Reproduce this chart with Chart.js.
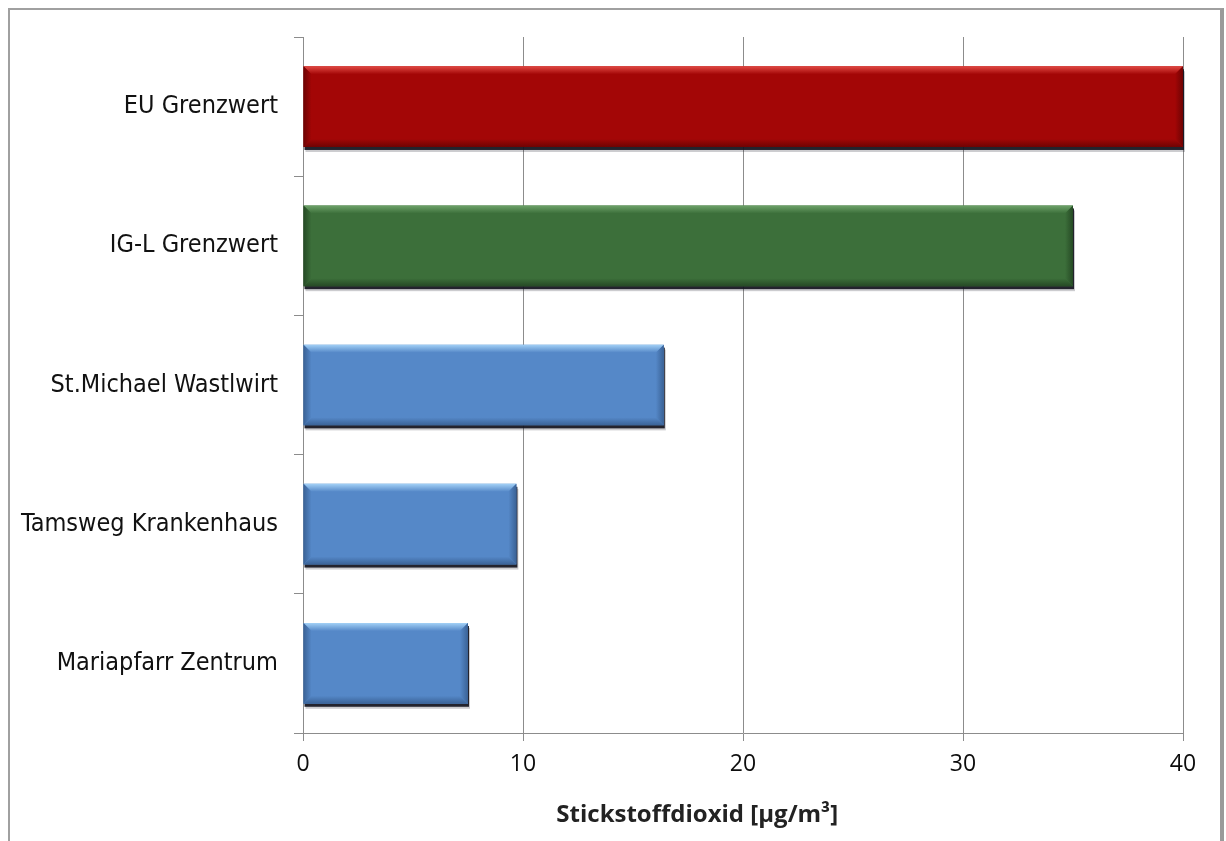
<!DOCTYPE html>
<html>
<head>
<meta charset="utf-8">
<script src="https://cdn.jsdelivr.net/npm/chart.js@4/dist/chart.umd.min.js"></script>
<style>
  html, body { margin: 0; padding: 0; background: #fff; overflow: hidden; }
  #frame { position: absolute; left: 8px; top: 8px; width: 1210px; height: 900px;
           border: 2px solid #a0a0a0; border-right: 4px solid #9a9a9a; pointer-events: none; }
  #wrap { position: absolute; left: 0; top: 0; width: 1226px; height: 841px; }
</style>
</head>
<body>
<div id="wrap"><canvas id="c" width="1226" height="841"></canvas></div>
<div id="frame"></div>
<script>
// Annual mean NO2 at the Lungau stations compared with the limit values
const categories = ['EU Grenzwert', 'IG-L Grenzwert', 'St.Michael Wastlwirt', 'Tamsweg Krankenhaus', 'Mariapfarr Zentrum'];
const no2Values = [40, 35, 16.4, 9.7, 7.5];
const xTicks = [0, 10, 20, 30, 40];
const axisTitle = 'Stickstoffdioxid [µg/m³]';

// fill / highlight / shade per bar
const barFill  = ['#a30606', '#3c6f3a', '#5588c8', '#5588c8', '#5588c8'];
const barLight = ['#e24a44', '#6ea36a', '#a2d0f6', '#a2d0f6', '#a2d0f6'];
const barDark  = ['#6e0303', '#264a25', '#3a6296', '#3a6296', '#3a6296'];

function barBox(bar) {
  const p = bar.getProps(['x', 'y', 'base', 'height'], true);
  return { l: Math.min(p.base, p.x), r: Math.max(p.base, p.x), t: p.y - p.height / 2, b: p.y + p.height / 2 };
}

function poly(ctx, pts, fill) {
  ctx.beginPath();
  ctx.moveTo(pts[0][0], pts[0][1]);
  for (let i = 1; i < pts.length; i++) ctx.lineTo(pts[i][0], pts[i][1]);
  ctx.closePath();
  ctx.fillStyle = fill;
  ctx.fill();
}

// drop shadow under each bar and a bevelled rim on top of it
const bevelPlugin = {
  id: 'bevel',
  beforeDatasetsDraw(chart) {
    const ctx = chart.ctx;
    ctx.save();
    chart.getDatasetMeta(0).data.forEach((bar) => {
      const { l, r, t, b } = barBox(bar);
      ctx.fillStyle = 'rgba(20,20,30,0.92)';
      ctx.fillRect(l + 1, t + 3, r - l, b - t);
      ctx.fillStyle = 'rgba(25,25,35,0.22)';
      ctx.fillRect(l + 2, t + 5, r - l, b - t);
    });
    ctx.restore();
  },
  afterDatasetsDraw(chart) {
    const ctx = chart.ctx;
    ctx.save();
    chart.getDatasetMeta(0).data.forEach((bar, i) => {
      const { l, r, t, b } = barBox(bar);
      const d = 8;
      const gTop = ctx.createLinearGradient(0, t, 0, t + d);
      gTop.addColorStop(0, barLight[i]);
      gTop.addColorStop(1, barFill[i]);
      poly(ctx, [[l, t], [r, t], [r - d, t + d], [l + d, t + d]], gTop);
      const gRight = ctx.createLinearGradient(r - d, 0, r, 0);
      gRight.addColorStop(0, barFill[i]);
      gRight.addColorStop(1, barDark[i]);
      poly(ctx, [[r, t], [r, b], [r - d, b - d], [r - d, t + d]], gRight);
      const gBot = ctx.createLinearGradient(0, b - d, 0, b);
      gBot.addColorStop(0, barFill[i]);
      gBot.addColorStop(1, barDark[i]);
      poly(ctx, [[l, b], [r, b], [r - d, b - d], [l + d, b - d]], gBot);
      const gLeft = ctx.createLinearGradient(l, 0, l + d, 0);
      gLeft.addColorStop(0, barDark[i]);
      gLeft.addColorStop(1, barFill[i]);
      poly(ctx, [[l, t], [l + d, t + d], [l + d, b - d], [l, b]], gLeft);
    });
    ctx.restore();
  }
};

// x-axis title, set slightly left of the plot centre
const axisTitlePlugin = {
  id: 'axisTitle',
  afterDraw(chart) {
    const ctx = chart.ctx;
    const area = chart.chartArea;
    ctx.save();
    ctx.font = 'bold 24px "Open Sans"';
    ctx.fillStyle = '#222';
    ctx.textAlign = 'center';
    ctx.textBaseline = 'middle';
    ctx.fillText(axisTitle, area.left + (area.right - area.left) * 0.448, area.bottom + 82);
    ctx.restore();
  }
};

new Chart(document.getElementById('c'), {
  type: 'bar',
  data: {
    labels: categories,
    datasets: [{
      data: no2Values,
      backgroundColor: barFill,
      borderWidth: 0,
      barPercentage: 0.58,
      categoryPercentage: 1.0
    }]
  },
  plugins: [bevelPlugin, axisTitlePlugin],
  options: {
    indexAxis: 'y',
    responsive: false,
    animation: false,
    devicePixelRatio: 1,
    layout: { padding: { left: 0, top: 37, right: 43, bottom: 0 } },
    plugins: { legend: { display: false }, tooltip: { enabled: false } },
    scales: {
      x: {
        min: 0, max: 40,
        afterBuildTicks(scale) { scale.ticks = xTicks.map(v => ({ value: v })); },
        afterFit(scale) { scale.height = 108; },
        grid: { color: '#8c8c8c', lineWidth: 1, tickLength: 8, drawOnChartArea: true },
        border: { color: '#8c8c8c', width: 1 },
        ticks: { color: '#0d0d0d', padding: 10, font: { family: 'Open Sans', size: 23 } }
      },
      y: {
        afterFit(scale) { scale.width = 303; },
        grid: { offset: true, drawOnChartArea: false, color: '#8c8c8c', tickLength: 9 },
        border: { color: '#8c8c8c', width: 1 },
        ticks: { color: '#111', padding: 16, font: { family: 'DejaVu Sans Condensed', size: 25 } }
      }
    }
  }
});
</script>
</body>
</html>
